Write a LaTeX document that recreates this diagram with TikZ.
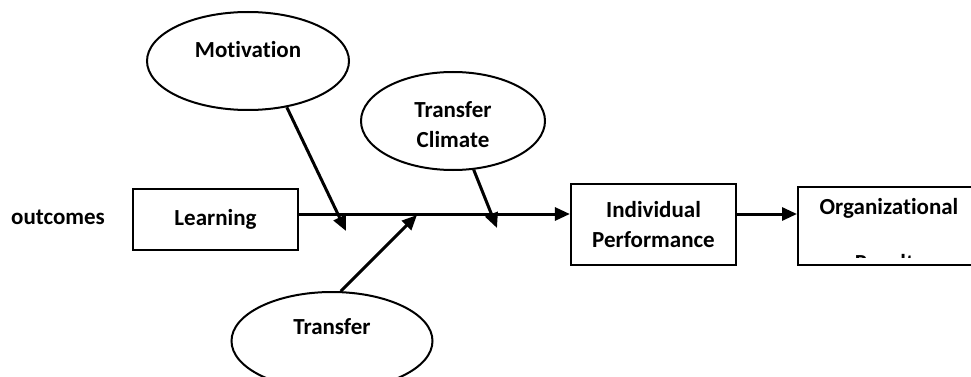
\documentclass[tikz,border=0pt]{standalone}
\usepackage{fontspec}
\setmainfont{Carlito}[Ligatures=NoCommon]
\usetikzlibrary{shapes.geometric,arrows.meta}
\begin{document}
\begin{tikzpicture}[x=1pt,y=-1pt,
  every node/.style={font=\fontsize{23}{30}\selectfont\bfseries},
  oval/.style={draw,ellipse,line width=2pt,inner sep=0pt},
  box/.style={draw,rectangle,line width=2.2pt,inner sep=0pt,align=center},
  arr/.style={line width=3pt,-{Triangle[length=15pt,width=13pt]}},
  lbl/.style={inner sep=0pt,align=center}]
\clip (0,0) rectangle (971,377);
\fill[white] (0,0) rectangle (971,377);
% ellipses
\node[oval,minimum width=202pt,minimum height=98pt] (mot) at (248,61) {};
\node[lbl] (motl) at (248,50) {Motivation};
\node[oval,minimum width=184pt,minimum height=98pt] (tc) at (453,121) {};
\node[lbl] (tcl) at (453,125) {Transfer\\Climate};
\node[oval,minimum width=201pt,minimum height=98pt] (tr) at (332,341) {};
\node[lbl] (trl) at (332,327) {Transfer};
% boxes
\node[lbl] (out) at (58,217) {outcomes};
\node[box,minimum width=165pt,minimum height=61pt] (learn) at (215.5,219.5) {Learning};
\node[box,minimum width=165pt,minimum height=81pt] (ip) at (653.5,224.5) {Individual\\Performance};
\node[box,minimum width=184pt,minimum height=78pt,anchor=north west] (org) at (797,186) {};
\node[lbl] (orgl) at (889,208) {Organizational};
\begin{scope}
  \clip (797,186) rectangle (990,257.5);
  \node[lbl,anchor=north] (res) at (889,254) {Results};
\end{scope}
% connectors
\coordinate (axis) at (0,214);
\draw[arr] (learn.east |- axis) -- (ip.west |- axis);
\draw[arr] (ip.east |- axis) -- (org.west |- axis);
\coordinate (t1) at (346,231);
\draw[arr] (mot.-50) -- (t1);
\coordinate (t2) at (417,215);
\draw[arr] (tr.80) -- (t2);
\coordinate (t3) at (497,228);
\draw[arr] (tc.-67) -- (t3);
\end{tikzpicture}
\end{document}
